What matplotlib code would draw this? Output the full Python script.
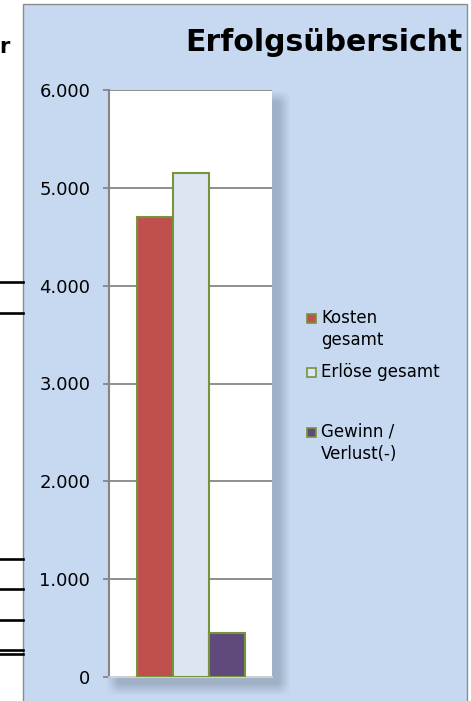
import numpy as np
import matplotlib.pyplot as plt
from matplotlib.patches import Rectangle
from matplotlib.lines import Line2D
from matplotlib.ticker import FuncFormatter

# data
series = ['Kosten\ngesamt', 'Erlöse gesamt', 'Gewinn /\nVerlust(-)']
values = [4700, 5150, 450]
fills = ['#C0504D', '#DCE6F2', '#604A7B']
edge = '#77933C'
yticks = [0, 1000, 2000, 3000, 4000, 5000, 6000]
title = 'Erfolgsübersicht'

W, H = 471, 701
plt.rcParams['font.family'] = ['DejaVu Sans']


def fx(x):
    return x / W


def fy(y):
    return 1 - y / H


fig = plt.figure(figsize=(W / 100, H / 100), dpi=100)

# background: white page, blue chart panel and soft shadow behind plot area
panel = np.array([198, 217, 241]) / 255
img = np.ones((H, W, 3))
img[4:, 23:467] = panel
xx = np.arange(W)[None, :]
yy = np.arange(H)[:, None]
blur = 12.0
sx = np.clip((284 - xx) / blur + 0.5, 0, 1) * np.clip((xx - 112) / blur + 0.5, 0, 1)
sy = np.clip((689 - yy) / blur + 0.5, 0, 1) * np.clip((yy - 96) / blur + 0.5, 0, 1)
alpha = (0.36 * sx * sy)[..., None]
shade = np.array([90, 105, 125]) / 255
inside = np.zeros((H, W, 1))
inside[4:, 23:467] = 1
img = img * (1 - alpha * inside) + shade * alpha * inside
fig.figimage(img, xo=0, yo=0, origin='upper', zorder=-1)

fig.patches.append(Rectangle((fx(23), fy(705)), fx(467 - 23), (705 - 4) / H,
                             transform=fig.transFigure, fill=False,
                             edgecolor='#8C8C8C', lw=1, zorder=1))

# spreadsheet cell borders left of the chart
for yl in [282, 313, 559, 589, 620, 650, 654]:
    fig.lines.append(Line2D([0, fx(23)], [fy(yl), fy(yl)], transform=fig.transFigure,
                            color='black', lw=1.9))
fig.text(fx(-1), fy(53), 'r', fontsize=15, fontweight='bold', color='black',
         ha='left', va='baseline')

ax = fig.add_axes([fx(109), fy(677), (272 - 109) / W, (677 - 90) / H])
ax.set_facecolor('white')
xpos = np.arange(len(values))
ax.bar(xpos, values, width=1.0, color=fills, edgecolor=edge, linewidth=1.5, zorder=3)
ax.set_xlim(-1.28, 3.25)
ax.set_ylim(0, 6000)
ax.set_yticks(yticks)
ax.yaxis.set_major_formatter(FuncFormatter(lambda v, p: f'{int(v):,}'.replace(',', '.')))
ax.set_xticks([])
ax.grid(axis='y', color='#868686', lw=1.3, zorder=0)
ax.tick_params(axis='y', length=4.5, width=1.3, color='#868686', pad=9,
               labelsize=13, labelcolor='black')
for s in ['top', 'right']:
    ax.spines[s].set_visible(False)
ax.spines['left'].set_color('#868686')
ax.spines['left'].set_linewidth(1.5)
ax.spines['bottom'].set_color('#D9D9D9')
ax.spines['bottom'].set_linewidth(1.2)

fig.text(fx(462), fy(51), title, fontsize=21.5, fontweight='bold', ha='right',
         va='baseline', color='black')

# legend
leg_y = [318, 372, 432]
for lbl, col, yl in zip(series, fills, leg_y):
    fig.patches.append(Rectangle((fx(307), fy(yl + 4.5)), 9 / W, 9 / H,
                                 transform=fig.transFigure, facecolor=col,
                                 edgecolor=edge, lw=1.2, zorder=3))
    fig.text(fx(321), fy(yl - 9), lbl, fontsize=12, ha='left', va='top',
             linespacing=1.3, color='black')

fig.savefig('out.png', dpi=100)
